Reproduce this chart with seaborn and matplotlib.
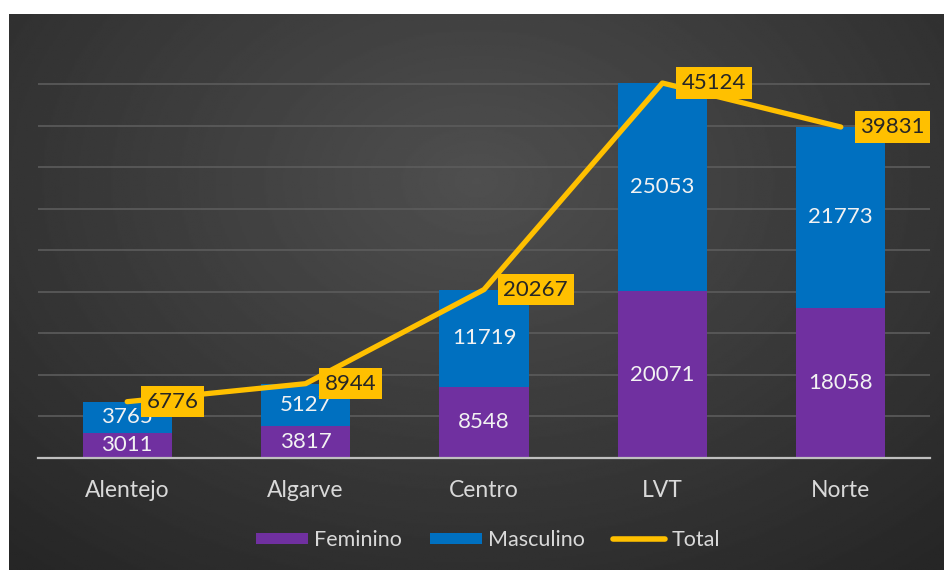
import numpy as np
import pandas as pd
import seaborn as sns
import matplotlib.pyplot as plt
from matplotlib.patches import Patch
from matplotlib.lines import Line2D

# Data
regions = ["Alentejo", "Algarve", "Centro", "LVT", "Norte"]
feminino = [3011, 3817, 8548, 20071, 18058]
masculino = [3765, 5127, 11719, 25053, 21773]
total = [6776, 8944, 20267, 45124, 39831]

df = pd.DataFrame({
    "Region": regions,
    "Feminino": feminino,
    "Masculino": masculino,
    "Total": total,
})

purple = "#7030A0"
blue = "#0070C0"
gold = "#FFC000"

sns.set_theme(style="dark")
plt.rcParams["font.family"] = ["Lato", "DejaVu Sans"]

fig = plt.figure(figsize=(9.44, 5.70), dpi=100, facecolor="white")

# Dark radial gradient background
bg = fig.add_axes([9 / 944, 0, 1 - 9 / 944, 1 - 14 / 570], zorder=-5)
yy, xx = np.mgrid[0:1:300j, 0:1:500j]
r = np.sqrt(((xx - 0.5) / 0.75) ** 2 + ((yy - 0.3) / 0.9) ** 2)
shade = 0.31 - 0.16 * np.clip(r, 0, 1)
bg.imshow(shade, cmap="gray", vmin=0, vmax=1, aspect="auto", extent=[0, 1, 1, 0])
bg.axis("off")

ax = fig.add_axes([38 / 944, 1 - 458 / 570, (930 - 38) / 944, (458 - 42.5) / 570])
ax.set_facecolor("none")

# Stacked bars: full height in blue, feminino on top in purple
sns.barplot(data=df, x="Region", y="Total", color=blue, width=0.5,
            saturation=1, linewidth=0, edgecolor="none", ax=ax, zorder=2)
sns.barplot(data=df, x="Region", y="Feminino", color=purple, width=0.5,
            saturation=1, linewidth=0, edgecolor="none", ax=ax, zorder=3)

# Total line
sns.lineplot(data=df, x="Region", y="Total", color=gold, linewidth=3.8,
             sort=False, ax=ax, zorder=4, solid_capstyle="round")

# Segment labels
for i in range(len(regions)):
    ax.text(i, feminino[i] / 2, str(feminino[i]), ha="center", va="center",
            color="#f2f2f2", fontsize=16, zorder=5)
    ax.text(i, feminino[i] + masculino[i] / 2, str(masculino[i]), ha="center",
            va="center", color="#f2f2f2", fontsize=16, zorder=5)

# Total labels in yellow boxes
for i in range(len(regions)):
    ax.annotate(str(total[i]), (i, total[i]), xytext=(14, 0),
                textcoords="offset points", ha="left", va="center",
                fontsize=16, color="#262626", zorder=6,
                bbox=dict(boxstyle="square,pad=0.25", fc=gold, ec="none"))

ax.set_xlim(-0.5, 4.5)
ax.set_ylim(0, 50000)
ax.set_yticks(range(0, 50001, 5000))
ax.yaxis.grid(True, color="#5c5c5c", linewidth=1.2)
ax.xaxis.grid(False)
ax.set_yticklabels([])
ax.tick_params(axis="y", length=0)
ax.tick_params(axis="x", length=0, pad=16, labelsize=16.5, labelcolor="#d9d9d9")
ax.set_xlabel("")
ax.set_ylabel("")
for s in ["top", "right", "left"]:
    ax.spines[s].set_visible(False)
ax.spines["bottom"].set_color("#bfbfbf")
ax.spines["bottom"].set_linewidth(1.6)
ax.spines["bottom"].set_zorder(4)

handles = [
    Patch(facecolor=purple, edgecolor="none", label="Feminino"),
    Patch(facecolor=blue, edgecolor="none", label="Masculino"),
    Line2D([0], [0], color=gold, linewidth=4, solid_capstyle="round", label="Total"),
]
leg = fig.legend(handles=handles, loc="center", bbox_to_anchor=(488 / 944, 1 - 540 / 570),
                 ncol=3, frameon=False, fontsize=15.5, handlelength=2.4,
                 handleheight=0.4, handletextpad=0.3, columnspacing=1.3)
for t in leg.get_texts():
    t.set_color("#d9d9d9")

fig.savefig("out.png", dpi=100, facecolor="white")
